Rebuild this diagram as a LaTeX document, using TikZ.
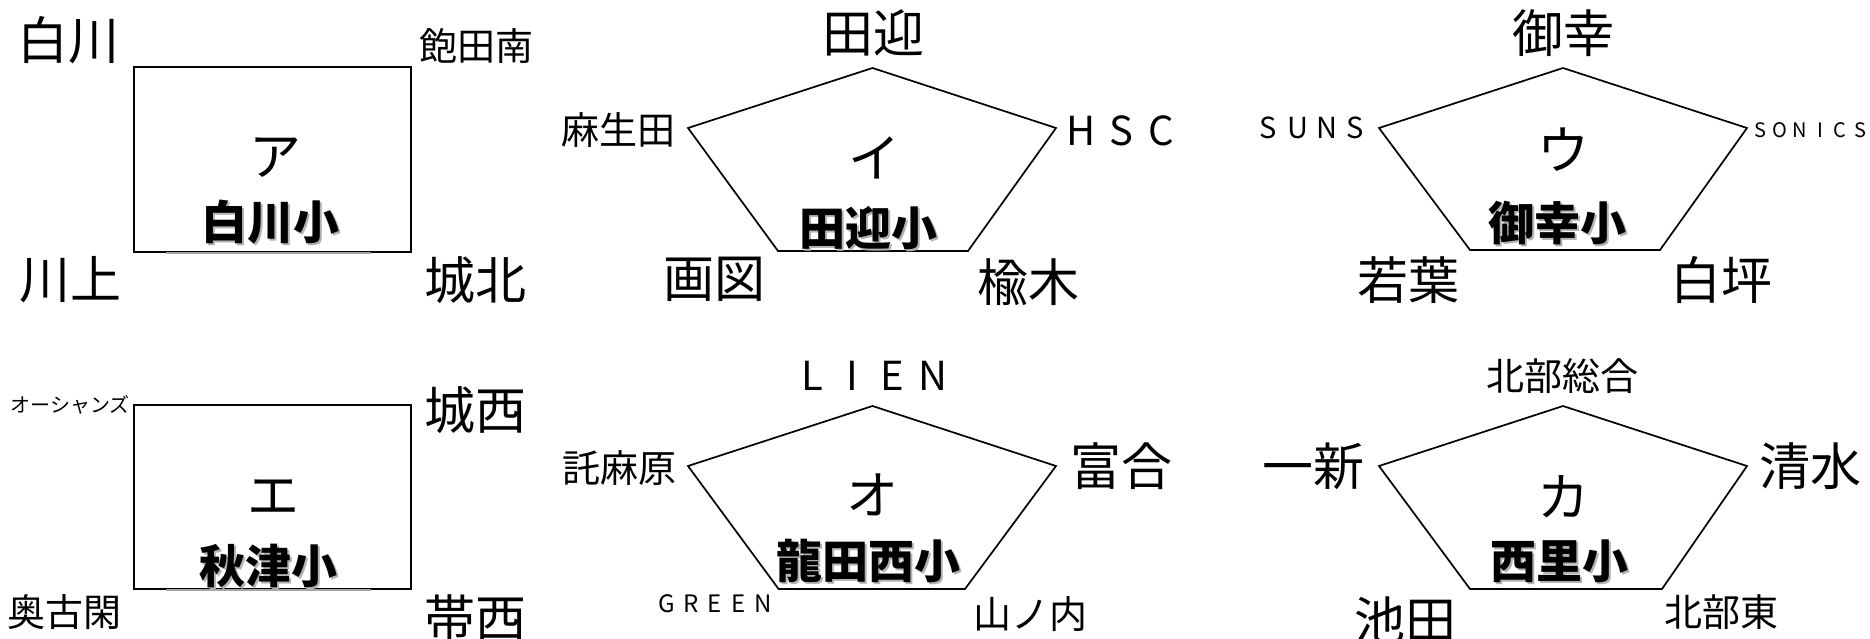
\documentclass[tikz,border=0pt]{standalone}
\usepackage{fontspec}
\newfontfamily\jp{Noto Sans CJK JP}
\newcommand\cl[1]{\makebox[1em][c]{#1}}
\tikzset{
  big/.style={font=\jp\fontsize{25.5}{25.5}\selectfont, inner sep=0pt},
  mid/.style={font=\jp\fontsize{19}{19}\selectfont, inner sep=0pt},
  small/.style={font=\jp\fontsize{10}{10}\selectfont, inner sep=0pt},
  kana/.style={font=\jp\fontsize{26}{26}\selectfont, inner sep=0pt},
  lat/.style={inner sep=0pt, font=\jp\fontsize{#1}{#1}\selectfont},
  school/.style={font=\jp\bfseries\fontsize{23}{23}\selectfont, inner sep=0pt},
  shadowtxt/.style={school, text=black!30},
  frame/.style={draw=black, line width=1pt},
  penta/.style={draw=black, line width=0.85pt, line join=miter},
}
\begin{document}
\begin{tikzpicture}[x=0.5pt,y=-0.5pt]
\useasboundingbox (0,0) rectangle (1870,638);
% ---------- Panel A (rectangle) ----------
\draw[frame] (134,67) rectangle (411,252);
\draw[line width=1pt, black!35] (166,252.5) -- (371,252.5);
\node[big] (a1) at (69,40) {白川};
\node[mid] (a2) at (476,46) {飽田南};
\node[big] (a3) at (70,280) {川上};
\node[big] (a4) at (475,280) {城北};
\node[kana] (a5) at (275,158) {ア};
\node[shadowtxt] (a6s) at (272,224) {白川小};
\node[school] (a6) at (270,222) {白川小};
% ---------- Panel I (pentagon) ----------
\coordinate (b1) at (872.5,68);
\coordinate (b2) at (1056,128);
\coordinate (b3) at (968,251);
\coordinate (b4) at (778,251);
\coordinate (b5) at (688,128);
\draw[penta] (b1) -- (b2) -- (b3) -- (b4) -- (b5) -- cycle;
\node[big] (bl1) at (873.5,33) {田迎};
\node[mid] (bl2) at (618,130) {麻生田};
\node[lat=20] (bl3) at (1121,131) {\cl{H}\cl{S}\cl{C}};
\node[kana] (bl4) at (874,158) {イ};
\node[shadowtxt] (bl5s) at (870,230) {田迎小};
\node[school] (bl5) at (868,228) {田迎小};
\node[big] (bl6) at (714,279) {画図};
\node[big] (bl7) at (1028,282) {楡木};
% ---------- Panel U (pentagon) ----------
\coordinate (c1) at (1563,68);
\coordinate (c2) at (1747,128);
\coordinate (c3) at (1660,250);
\coordinate (c4) at (1470,250);
\coordinate (c5) at (1379,128);
\draw[penta] (c1) -- (c2) -- (c3) -- (c4) -- (c5) -- cycle;
\node[big] (cl1) at (1563,33) {御幸};
\node[lat=14.5] (cl2) at (1312,128) {\cl{S}\cl{U}\cl{N}\cl{S}};
\node[lat=10] (cl3) at (1810,130) {\cl{S}\cl{O}\cl{N}\cl{I}\cl{C}\cl{S}};
\node[kana] (cl4) at (1563,150) {ウ};
\node[shadowtxt] (cl5s) at (1559,225) {御幸小};
\node[school] (cl5) at (1557,223) {御幸小};
\node[big] (cl6) at (1408,280) {若葉};
\node[big] (cl7) at (1721,280) {白坪};
% ---------- Panel E (rectangle) ----------
\draw[frame] (134,405) rectangle (411,589);
\draw[line width=1pt, black!35] (166,590) -- (371,590);
\node[small] (d1) at (70,405) {オーシャンズ};
\node[big] (d2) at (475,410) {城西};
\node[mid] (d3) at (65,612) {奥古閑};
\node[big] (d4) at (475,618) {帯西};
\node[kana] (d5) at (273,497) {エ};
\node[shadowtxt] (d6s) at (270,568) {秋津小};
\node[school] (d6) at (268,566) {秋津小};
% ---------- Panel O (pentagon) ----------
\coordinate (e1) at (872.5,406);
\coordinate (e2) at (1056,466);
\coordinate (e3) at (965,589);
\coordinate (e4) at (778.6,589);
\coordinate (e5) at (688,466);
\draw[penta] (e1) -- (e2) -- (e3) -- (e4) -- (e5) -- cycle;
\node[lat=20] (el1) at (872.5,376) {\cl{L}\cl{I}\cl{E}\cl{N}};
\node[mid] (el2) at (619,468) {託麻原};
\node[big] (el3) at (1121,466) {富合};
\node[kana] (el4) at (872.5,495) {オ};
\node[shadowtxt] (el5s) at (870,563) {龍田西小};
\node[school] (el5) at (868,561) {龍田西小};
\node[lat=12] (el6) at (715,604) {\cl{G}\cl{R}\cl{E}\cl{E}\cl{N}};
\node[mid] (el7) at (1030,614) {山ノ内};
% ---------- Panel Ka (pentagon) ----------
\coordinate (f1) at (1563,406);
\coordinate (f2) at (1747,466);
\coordinate (f3) at (1662,589);
\coordinate (f4) at (1470,589);
\coordinate (f5) at (1379,466);
\draw[penta] (f1) -- (f2) -- (f3) -- (f4) -- (f5) -- cycle;
\node[mid] (fl1) at (1562,376) {北部総合};
\node[big] (fl2) at (1313,466) {一新};
\node[big] (fl3) at (1810,466) {清水};
\node[kana] (fl4) at (1563,497) {カ};
\node[shadowtxt] (fl5s) at (1561,563) {西里小};
\node[school] (fl5) at (1559,561) {西里小};
\node[big] (fl6) at (1405,620) {池田};
\node[mid] (fl7) at (1721,612) {北部東};
\end{tikzpicture}
\end{document}
